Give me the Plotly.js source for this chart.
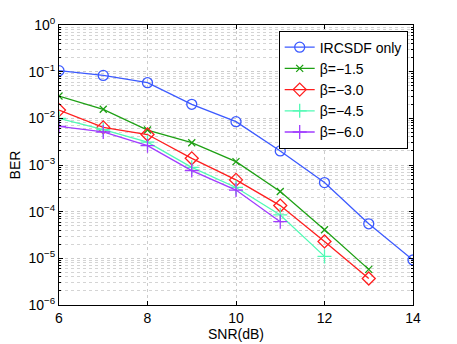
<!DOCTYPE html>
<html>
<head>
<meta charset="utf-8">
<script src="https://cdn.plot.ly/plotly-3.0.1.min.js"></script>
<style>body{margin:0;background:#fff;}</style>
</head>
<body>
<div id="berplot" style="width:457px;height:344px;"></div>
<script>
// SNR points (dB)
var snrFull = [6, 7, 8, 9, 10, 11, 12, 13, 14];
var snr13 = [6, 7, 8, 9, 10, 11, 12, 13];
var snr12 = [6, 7, 8, 9, 10, 11, 12];
var snr11 = [6, 7, 8, 9, 10, 11];

// BER
var berIrcsdf = [0.105, 0.083, 0.058, 0.020, 0.0085, 0.0020, 4.2e-4, 5.5e-5, 9.2e-6];
var berB15 = [0.030, 0.0156, 0.0056, 0.0030, 0.00118, 2.7e-4, 4.1e-5, 5.8e-6];
var berB30 = [0.015, 0.0064, 0.0045, 0.00139, 4.8e-4, 1.35e-4, 2.3e-5, 3.7e-6];
var berB45 = [0.0100, 0.0057, 0.0031, 8.9e-4, 3.3e-4, 8.5e-5, 1.1e-5];
var berB60 = [0.0067, 0.0051, 0.0026, 7.6e-4, 2.9e-4, 6.1e-5];

var yTickVals = [1, 0.1, 0.01, 0.001, 1e-4, 1e-5, 1e-6];
var yTickText = ['10<sup>0</sup>', '10<sup>\u22121</sup>', '10<sup>\u22122</sup>', '10<sup>\u22123</sup>',
                 '10<sup>\u22124</sup>', '10<sup>\u22125</sup>', '10<sup>\u22126</sup>'];

var data = [
  {x: snrFull, y: berIrcsdf, name: 'IRCSDF only', mode: 'lines+markers',
   line: {color: 'rgb(60,90,255)', width: 1.3},
   marker: {symbol: 'circle-open', size: 10, color: 'rgb(60,90,255)', line: {width: 1.3}}},
  {x: snr13, y: berB15, name: '\u03b2=\u22121.5', mode: 'lines+markers',
   line: {color: 'rgb(30,160,20)', width: 1.3},
   marker: {symbol: 'x-thin-open', size: 7, color: 'rgb(30,160,20)', line: {width: 1.3, color: 'rgb(30,160,20)'}}},
  {x: snr13, y: berB30, name: '\u03b2=\u22123.0', mode: 'lines+markers',
   line: {color: 'rgb(255,30,30)', width: 1.3},
   marker: {symbol: 'diamond-open', size: 10, color: 'rgb(255,30,30)', line: {width: 1.3}}},
  {x: snr12, y: berB45, name: '\u03b2=\u22124.5', mode: 'lines+markers',
   line: {color: 'rgb(80,250,180)', width: 1.3},
   marker: {symbol: 'cross-thin-open', size: 10, color: 'rgb(80,250,180)', line: {width: 1.3, color: 'rgb(80,250,180)'}}},
  {x: snr11, y: berB60, name: '\u03b2=\u22126.0', mode: 'lines+markers',
   line: {color: 'rgb(160,60,255)', width: 1.3},
   marker: {symbol: 'cross-thin-open', size: 10, color: 'rgb(160,60,255)', line: {width: 1.3, color: 'rgb(160,60,255)'}}}
];

var layout = {
  width: 457,
  height: 344,
  margin: {l: 59, r: 44, t: 25, b: 39},
  paper_bgcolor: '#fff',
  plot_bgcolor: '#fff',
  font: {family: 'Liberation Sans, Arial, sans-serif', size: 14, color: '#000'},
  showlegend: true,
  legend: {
    x: 0.985, y: 0.98, xanchor: 'right', yanchor: 'top',
    bgcolor: '#fff', bordercolor: '#000', borderwidth: 1,
    font: {size: 14}, tracegroupgap: 0, itemwidth: 30
  },
  xaxis: {
    range: [6, 14],
    dtick: 2,
    tickfont: {size: 14},
    title: {text: 'SNR(dB)', standoff: 0, font: {size: 14}},
    showline: true, mirror: 'ticks', linecolor: '#000', linewidth: 1,
    ticks: 'inside', ticklen: 4, tickcolor: '#000',
    showgrid: true, gridcolor: '#cccccc', griddash: 'dot', gridwidth: 1,
    zeroline: false
  },
  yaxis: {
    type: 'log',
    range: [-6, 0],
    tickvals: yTickVals,
    ticktext: yTickText,
    tickfont: {size: 14},
    title: {text: 'BER', standoff: 4, font: {size: 14}},
    showline: true, mirror: 'ticks', linecolor: '#000', linewidth: 1,
    ticks: 'inside', ticklen: 4, tickcolor: '#000',
    showgrid: true, gridcolor: '#cccccc', griddash: 'dot', gridwidth: 1,
    minor: {dtick: 'D1', showgrid: true, gridcolor: '#d4d4d4', griddash: 'dot', ticks: 'inside', ticklen: 2, tickcolor: '#000'},
    zeroline: false
  }
};

Plotly.newPlot('berplot', data, layout, {staticPlot: true});
</script>
</body>
</html>
